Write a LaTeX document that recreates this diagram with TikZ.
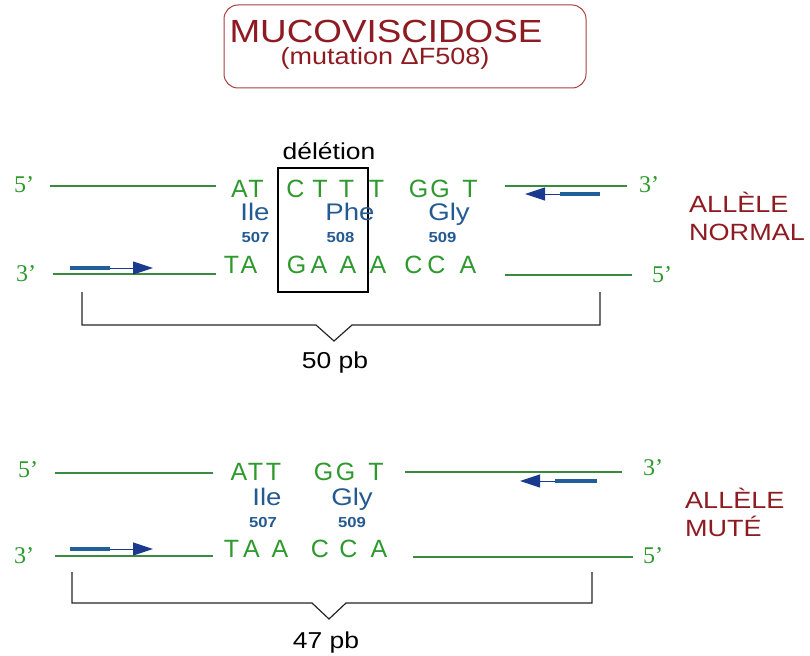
\documentclass[tikz,border=0pt]{standalone}
\usepackage{fontspec}
\setmainfont[FakeStretch=1.15]{Liberation Sans}
\newfontfamily\seqfont{Liberation Sans}
\newfontfamily\primefont{Liberation Serif}
\usetikzlibrary{arrows.meta}
\definecolor{dnagreen}{HTML}{2E9A2E}
\definecolor{strandgreen}{HTML}{3A8A40}
\definecolor{aablue}{HTML}{245A92}
\definecolor{titlered}{HTML}{8E1B22}
\definecolor{framered}{HTML}{A8403F}
\definecolor{primerbar}{HTML}{1F5F9A}
\definecolor{primerhead}{HTML}{1A3A8F}

\begin{document}
\begin{tikzpicture}[x=1pt,y=-1pt,
  base/.style={inner sep=0pt, anchor=base},
  nt/.style={base, font=\fontsize{25}{25}\seqfont, text=dnagreen},
  aa/.style={base, font=\fontsize{24}{24}\selectfont, text=aablue},
  num/.style={base, font=\fontsize{14.5}{15}\selectfont\bfseries, text=aablue},
  prime/.style={base, font=\fontsize{24}{24}\primefont, text=dnagreen},
  allele/.style={inner sep=0pt, anchor=base west, font=\fontsize{23.5}{24}\selectfont, text=titlered},
  plain/.style={base, font=\fontsize{23}{23}\selectfont, text=black},
  strand/.style={strandgreen, line width=1.3pt},
  bracket/.style={black!85, line width=1.2pt, line join=miter},
  bar/.style={primerbar, line width=4pt},
  shaft/.style={primerhead, line width=1pt, -{Triangle[length=20pt,width=13pt]}},
]
\useasboundingbox (0,0) rectangle (810,655);
\fill[white] (0,0) rectangle (810,655);

% ---------- title ----------
\draw[framered, line width=1pt, rounded corners=14pt] (224,5) rectangle (586,88);
\node[base, font=\fontsize{32}{32}\selectfont, text=titlered] (title) at (386,43) {MUCOVISCIDOSE};
\node[base, font=\fontsize{23.5}{24}\selectfont, text=titlered] (subtitle) at (385,65) {(mutation ΔF508)};

% ---------- normal allele ----------
\node[plain] (del) at (329,160) {délétion};
\draw[black, line width=1.2pt] (278,168) rectangle (368,292);

\node[prime] (n5a) at (24,193) {5’};
\node[prime] (n3a) at (649,192) {3’};
\node[prime] (n3b) at (26,281) {3’};
\node[prime] (n5b) at (662,282) {5’};

\coordinate (na1) at (50,186);  \coordinate (na2) at (216,186);
\coordinate (na3) at (505,186); \coordinate (na4) at (627,186);
\coordinate (nb1) at (53,274);  \coordinate (nb2) at (216,274);
\coordinate (nb3) at (505,275); \coordinate (nb4) at (632,275);
\draw[strand] (na1) -- (na2);
\draw[strand] (na3) -- (na4);
\draw[strand] (nb1) -- (nb2);
\draw[strand] (nb3) -- (nb4);

\foreach \x/\l [count=\i] in {239.5/A,256/T,295.5/C,320/T,346.5/T,376.5/T,418.5/G,440/G,470/T}
  \node[nt] (ntop\i) at (\x,197) {\l};
\foreach \x/\l [count=\i] in {231.5/T,249/A,296.5/G,319/A,348/A,378/A,413.5/C,436.5/C,468/A}
  \node[nt] (nbot\i) at (\x,273) {\l};

\node[aa] (nile) at (255,220) {Ile};
\node[aa] (nphe) at (350,220) {Phe};
\node[aa] (ngly) at (449,220) {Gly};
\node[num] (n507) at (255.5,242) {507};
\node[num] (n508) at (340.5,242) {508};
\node[num] (n509) at (442.5,242) {509};

\node[allele] (normal1) at (689,212) {ALLÈLE};
\node[allele] (normal2) at (689,240) {NORMAL};

% primers
\coordinate (pa1) at (70,268);  \coordinate (pa2) at (110,268);  \coordinate (pa3) at (153,268);
\coordinate (pb1) at (600,194); \coordinate (pb2) at (560,194);  \coordinate (pb3) at (525,194);
\draw[bar] (pa1) -- (pa2); \draw[shaft] (pa2) -- (pa3);
\draw[bar] (pb1) -- (pb2); \draw[shaft] (pb2) -- (pb3);

% amplicon size
\coordinate (ba1) at (82,292);  \coordinate (ba2) at (600,292);
\draw[bracket] (ba1) -- (82,325) -- (316,325) -- (334,341) -- (352,325) -- (600,325) -- (ba2);
\node[plain] (size1) at (335,368) {50 pb};

% ---------- mutated allele ----------
\node[prime] (m5a) at (28,477) {5’};
\node[prime] (m3a) at (653,475) {3’};
\node[prime] (m3b) at (24,563) {3’};
\node[prime] (m5b) at (653,563) {5’};

\coordinate (ma1) at (55,473);  \coordinate (ma2) at (213,473);
\coordinate (ma3) at (405,472); \coordinate (ma4) at (622,472);
\coordinate (mb1) at (55,556);  \coordinate (mb2) at (213,556);
\coordinate (mb3) at (413,557); \coordinate (mb4) at (633,557);
\draw[strand] (ma1) -- (ma2);
\draw[strand] (ma3) -- (ma4);
\draw[strand] (mb1) -- (mb2);
\draw[strand] (mb3) -- (mb4);

\foreach \x/\l [count=\i] in {239/A,255.5/T,273.5/T,323.5/G,345.5/G,376/T}
  \node[nt] (mtop\i) at (\x,480) {\l};
\foreach \x/\l [count=\i] in {231.5/T,251.5/A,280/A,320/C,348.5/C,379/A}
  \node[nt] (mbot\i) at (\x,557) {\l};

\node[aa] (mile) at (267,505) {Ile};
\node[aa] (mgly) at (352,505) {Gly};
\node[num] (m507) at (263,527) {507};
\node[num] (m509) at (352,527) {509};

\node[allele] (mut1) at (685,508) {ALLÈLE};
\node[allele] (mut2) at (685,536) {MUTÉ};

\coordinate (qa1) at (70,549);  \coordinate (qa2) at (110,549);  \coordinate (qa3) at (153,549);
\coordinate (qb1) at (597,481); \coordinate (qb2) at (555,481);  \coordinate (qb3) at (520,481);
\draw[bar] (qa1) -- (qa2); \draw[shaft] (qa2) -- (qa3);
\draw[bar] (qb1) -- (qb2); \draw[shaft] (qb2) -- (qb3);

\coordinate (bb1) at (72,572);  \coordinate (bb2) at (592,572);
\draw[bracket] (bb1) -- (72,603) -- (312,603) -- (329,619) -- (346,603) -- (592,603) -- (bb2);
\node[plain] (size2) at (326,648) {47 pb};
\end{tikzpicture}
\end{document}
